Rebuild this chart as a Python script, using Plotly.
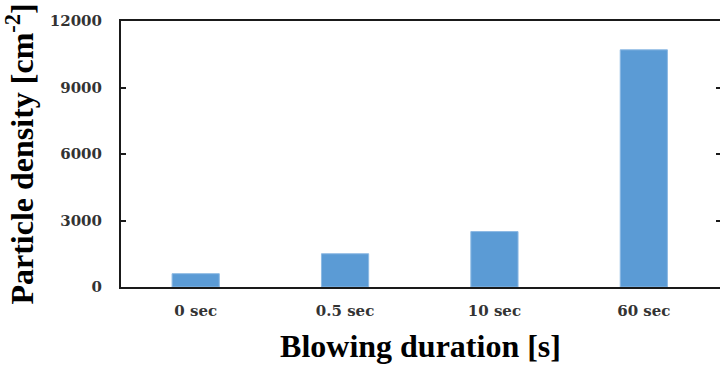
import plotly.graph_objects as go

categories = ["0 sec", "0.5 sec", "10 sec", "60 sec"]
density = [600, 1500, 2500, 10700]
y_ticks = [0, 3000, 6000, 9000, 12000]

fig = go.Figure()
fig.add_trace(go.Bar(
    x=categories, y=density, width=0.316,
    marker=dict(color="#5B9BD5", line=dict(color="#8DB9E3", width=1)),
    showlegend=False,
))
# invisible companion trace so the mirrored right-hand axis (ticks only) is drawn
fig.add_trace(go.Scatter(
    x=categories, y=density, yaxis="y2", mode="markers",
    marker=dict(opacity=0), hoverinfo="skip", showlegend=False,
))

tickfont = dict(family="DejaVu Serif", size=15, color="#333333", weight="bold")
axcol = "#1a1a1a"

fig.update_layout(
    width=720, height=371,
    margin=dict(l=121, r=0, t=21, b=84),
    plot_bgcolor="white", paper_bgcolor="white",
    bargap=0.684,
    xaxis=dict(
        range=[-0.5, 3.51],
        showline=True, linecolor=axcol, linewidth=2, mirror=True,
        ticks="", tickfont=tickfont, ticklabelstandoff=9,
        title=dict(text="Blowing duration [s]",
                   font=dict(family="Liberation Serif", size=32, color="black", weight="bold"),
                   standoff=16),
        showgrid=False,
    ),
    yaxis=dict(
        range=[0, 12000], tickvals=y_ticks,
        ticktext=[str(v) for v in y_ticks],
        showline=True, linecolor=axcol, linewidth=2,
        ticks="inside", ticklen=5, tickwidth=2, tickcolor=axcol,
        tickfont=tickfont, ticklabelstandoff=14,
        showgrid=False, zeroline=False,
        title=dict(text="Particle density [cm<sup>-2</sup>]",
                   font=dict(family="Liberation Serif", size=32, color="black", weight="bold"),
                   standoff=8),
    ),
    yaxis2=dict(
        range=[0, 12000], tickvals=y_ticks, overlaying="y", side="right",
        showline=False, ticks="inside", ticklen=4, tickwidth=2, tickcolor=axcol,
        showticklabels=False, showgrid=False, zeroline=False,
    ),
)

fig.write_html("out.html")
